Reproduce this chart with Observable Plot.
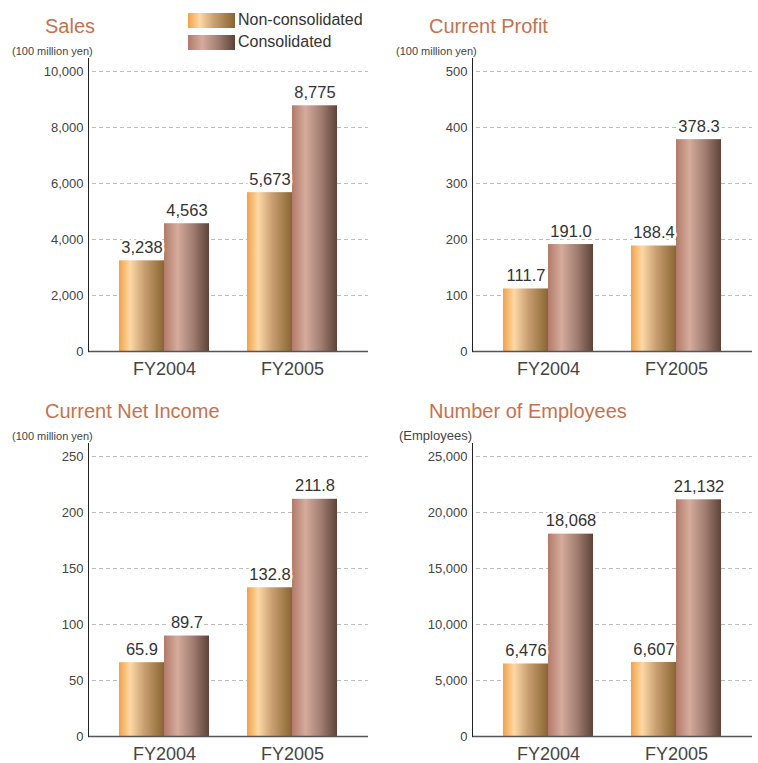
<!DOCTYPE html>
<html>
<head>
<meta charset="utf-8">
<script src="https://cdn.jsdelivr.net/npm/d3@7"></script>
<script src="https://cdn.jsdelivr.net/npm/@observablehq/plot@0.6"></script>
<style>
  html, body { margin: 0; padding: 0; background: #fff; }
  body { width: 758px; height: 763px; position: relative; overflow: hidden; font-family: "Liberation Sans", Arial, sans-serif; }
  .title { position: absolute; font-size: 20px; color: #c8714e; white-space: nowrap; line-height: 1; }
  .unit { position: absolute; font-size: 11px; color: #444; white-space: nowrap; line-height: 1; }
  .unit.wide { font-size: 13px; }
  .panel { position: absolute; width: 379px; }
  .panel svg { max-width: none !important; }
  .legend { position: absolute; left: 188px; top: 9px; }
  .legend .item { display: flex; align-items: center; height: 22px; font-size: 16px; color: #333; }
  .legend .sw { width: 47px; height: 15px; margin-right: 3px; }
</style>
</head>
<body>
<svg width="0" height="0" style="position:absolute">
  <defs>
    <linearGradient id="gNon" x1="0" x2="1" y1="0" y2="0">
      <stop offset="0%" stop-color="#f3a244"/>
      <stop offset="25%" stop-color="#fdd8a6"/>
      <stop offset="55%" stop-color="#c9a072"/>
      <stop offset="100%" stop-color="#8a6533"/>
    </linearGradient>
    <linearGradient id="gCon" x1="0" x2="1" y1="0" y2="0">
      <stop offset="0%" stop-color="#b27b69"/>
      <stop offset="30%" stop-color="#d5ab9d"/>
      <stop offset="65%" stop-color="#a07d70"/>
      <stop offset="100%" stop-color="#5e4238"/>
    </linearGradient>
  </defs>
</svg>

<div class="legend">
  <div class="item"><div class="sw" style="background:linear-gradient(to right,#f3a244 0%,#fdd8a6 25%,#c9a072 55%,#8a6533 100%)"></div><span id="lg0"></span></div>
  <div class="item"><div class="sw" style="background:linear-gradient(to right,#b27b69 0%,#d5ab9d 30%,#a07d70 65%,#5e4238 100%)"></div><span id="lg1"></span></div>
</div>

<script>
// ---- data ----
const years = ["FY2004", "FY2005"];
const seriesNames = ["Non-consolidated", "Consolidated"];

const titles = ["Sales", "Current Profit", "Current Net Income", "Number of Employees"];
const units = ["(100 million yen)", "(100 million yen)", "(100 million yen)", "(Employees)"];

const salesNon = [3238, 5673];
const salesCon = [4563, 8775];
const profitNon = [111.7, 188.4];
const profitCon = [191.0, 378.3];
const netNon = [65.9, 132.8];
const netCon = [89.7, 211.8];
const empNon = [6476, 6607];
const empCon = [18068, 21132];

const salesTicks = [0, 2000, 4000, 6000, 8000, 10000];
const profitTicks = [0, 100, 200, 300, 400, 500];
const netTicks = [0, 50, 100, 150, 200, 250];
const empTicks = [0, 5000, 10000, 15000, 20000, 25000];

// ---- rendering ----
document.getElementById("lg0").textContent = seriesNames[0];
document.getElementById("lg1").textContent = seriesNames[1];

const comma = d3.format(",");
const oneDec = d3.format(".1f");

const panels = [
  {non: salesNon, con: salesCon, ticks: salesTicks, fmt: comma, tickFmt: comma, left: 0, top: 0, unitWide: false, unitLeft: 12},
  {non: profitNon, con: profitCon, ticks: profitTicks, fmt: oneDec, tickFmt: d3.format("d"), left: 384, top: 0, unitWide: false, unitLeft: 396},
  {non: netNon, con: netCon, ticks: netTicks, fmt: oneDec, tickFmt: d3.format("d"), left: 0, top: 385, unitWide: false, unitLeft: 12},
  {non: empNon, con: empCon, ticks: empTicks, fmt: comma, tickFmt: comma, left: 384, top: 385, unitWide: true, unitLeft: 399}
];

panels.forEach((p, i) => {
  const t = document.createElement("div");
  t.className = "title";
  t.textContent = titles[i];
  t.style.left = (p.left + 45) + "px";
  t.style.top = (p.top + 16) + "px";
  document.body.appendChild(t);

  const u = document.createElement("div");
  u.className = "unit" + (p.unitWide ? " wide" : "");
  u.textContent = units[i];
  u.style.left = p.unitLeft + "px";
  u.style.top = (p.top + (p.unitWide ? 44 : 46)) + "px";
  document.body.appendChild(u);

  const dNon = years.map((y, k) => ({year: y, value: p.non[k]}));
  const dCon = years.map((y, k) => ({year: y, value: p.con[k]}));
  const top = p.ticks[p.ticks.length - 1];

  const chart = Plot.plot({
    width: 379,
    height: 335,
    marginLeft: 88,
    marginRight: 11,
    marginTop: 12,
    marginBottom: 30,
    style: {fontFamily: "'Liberation Sans', Arial, sans-serif", background: "transparent", overflow: "visible"},
    x: {domain: years, paddingInner: 0.297, paddingOuter: 0.242, axis: null},
    y: {domain: [0, top], range: [305, 25], axis: null},
    marks: [
      Plot.ruleY(p.ticks.slice(1), {stroke: "#bdbdbd", strokeDasharray: "4,3", insetLeft: 4}),
      Plot.barY(dNon, {x: "year", y: "value", fill: "url(#gNon)", insetRight: 45}),
      Plot.barY(dCon, {x: "year", y: "value", fill: "url(#gCon)", insetLeft: 45}),
      Plot.ruleY([0], {stroke: "#555", strokeWidth: 1.5}),
      Plot.frame({anchor: "left", stroke: "#222"}),
      Plot.axisY({ticks: p.ticks, tickSize: 0, tickPadding: 5, fontSize: 13, tickFormat: p.tickFmt, color: "#444", label: null}),
      Plot.axisX({tickSize: 0, tickPadding: 11, fontSize: 18, color: "#444", label: null}),
      Plot.text(dNon, {x: "year", y: "value", text: d => p.fmt(d.value), dx: -22.5, dy: -8, lineAnchor: "bottom", fontSize: 16.5, fill: "#333", stroke: "white", strokeWidth: 5}),
      Plot.text(dCon, {x: "year", y: "value", text: d => p.fmt(d.value), dx: 22.5, dy: -8, lineAnchor: "bottom", fontSize: 16.5, fill: "#333", stroke: "white", strokeWidth: 5})
    ]
  });
  const wrap = document.createElement("div");
  wrap.className = "panel";
  wrap.style.left = p.left + "px";
  wrap.style.top = (p.top + 46) + "px";
  wrap.appendChild(chart);
  document.body.appendChild(wrap);
});
</script>
</body>
</html>
